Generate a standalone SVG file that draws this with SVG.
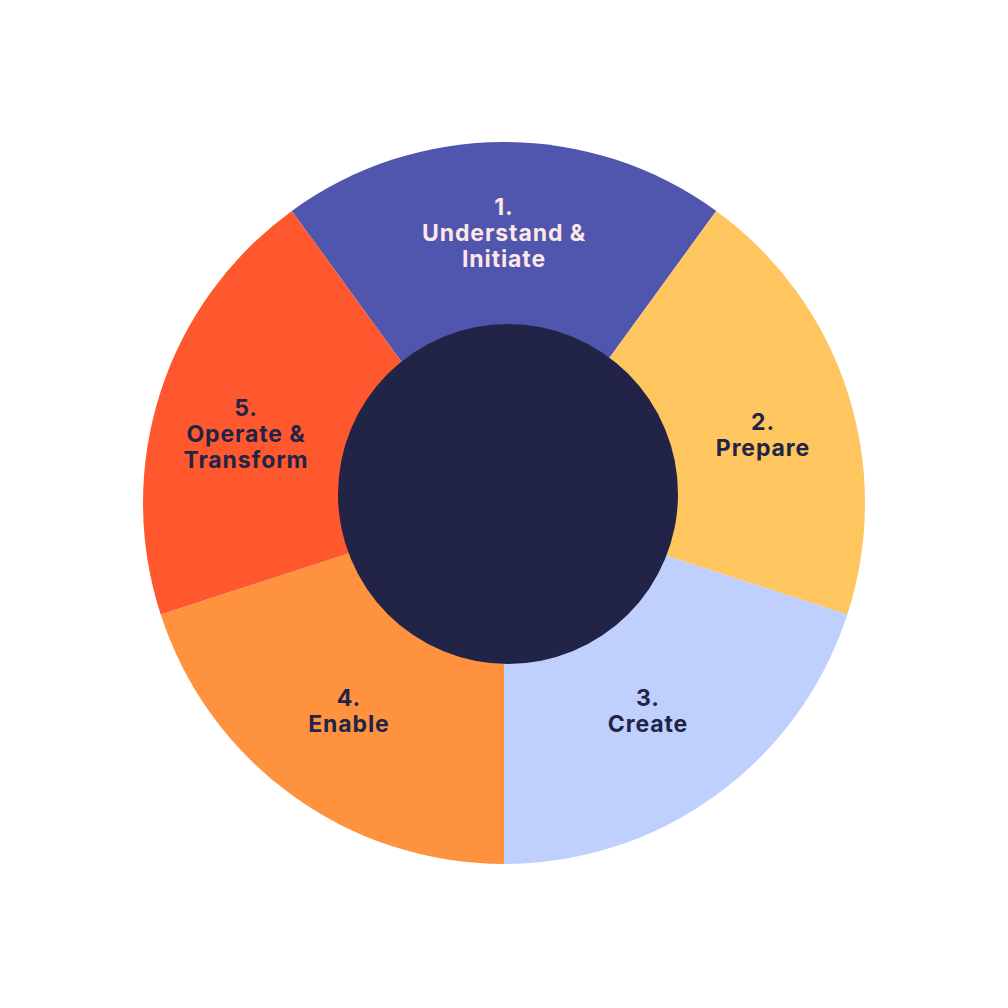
<svg xmlns="http://www.w3.org/2000/svg" width="1008" height="1008" viewBox="0 0 1008 1008">
<style>
.lbl{font-family:Inter,"Noto Sans","Liberation Sans",sans-serif;font-weight:700;font-size:23px;letter-spacing:0.9px;text-anchor:middle;fill:#212446}
.light{fill:#FDE7E7}
</style>
<rect width="1008" height="1008" fill="#ffffff"/>
<g id="seg1"><path d="M504 503 L291.8 210.9 A361 361 0 0 1 716.2 210.9 Z" fill="#5055AE"/></g>
<g id="seg2"><path d="M504 503 L716.2 210.9 A361 361 0 0 1 847.3 614.6 Z" fill="#FFC65F"/></g>
<g id="seg3"><path d="M504 503 L847.3 614.6 A361 361 0 0 1 504 864 Z" fill="#BFD0FF"/></g>
<g id="seg4"><path d="M504 503 L504 864 A361 361 0 0 1 160.7 614.6 Z" fill="#FF923F"/></g>
<g id="seg5"><path d="M504 503 L160.7 614.6 A361 361 0 0 1 291.8 210.9 Z" fill="#FF582F"/></g>
<g id="center"><circle cx="508" cy="494" r="170" fill="#212446"/></g>
<g id="label1"><text class="lbl light" x="504" y="215">1.</text><text class="lbl light" x="504" y="241">Understand &amp;</text><text class="lbl light" x="504" y="267">Initiate</text></g>
<g id="label2"><text class="lbl" x="763" y="430">2.</text><text class="lbl" x="763" y="456">Prepare</text></g>
<g id="label3"><text class="lbl" x="648" y="706">3.</text><text class="lbl" x="648" y="732">Create</text></g>
<g id="label4"><text class="lbl" x="349" y="706">4.</text><text class="lbl" x="349" y="732">Enable</text></g>
<g id="label5"><text class="lbl" x="246" y="416">5.</text><text class="lbl" x="246" y="442">Operate &amp;</text><text class="lbl" x="246" y="468">Transform</text></g>
</svg>
